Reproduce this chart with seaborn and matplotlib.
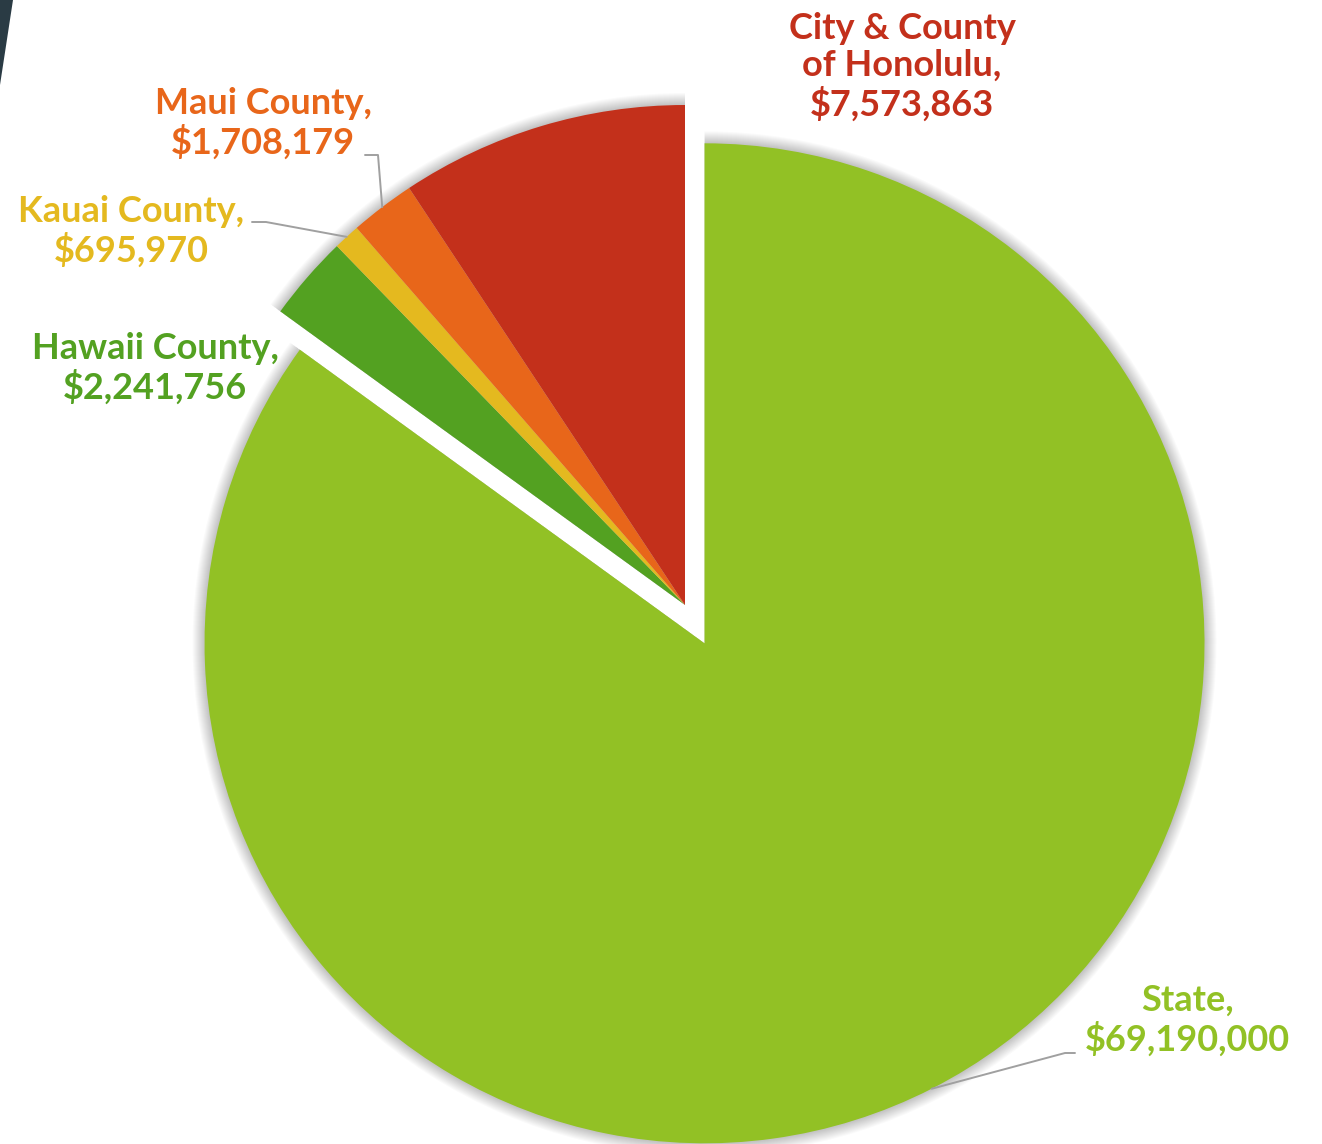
import numpy as np
import matplotlib.pyplot as plt
import seaborn as sns
from matplotlib.patches import Polygon

# Funding by source (USD)
sources = ["State", "Hawaii County", "Kauai County", "Maui County", "City & County\nof Honolulu"]
amounts = [69190000, 2241756, 695970, 1708179, 7573863]
colors = ["#92C125", "#53A121", "#E4B91F", "#E8661A", "#C3301B"]
explode_frac = [0.086, 0, 0, 0, 0]  # fraction of radius

sns.set_theme(style="white")
plt.rcParams["font.family"] = ["Lato", "DejaVu Sans"]

W, H = 1322, 1144
fig = plt.figure(figsize=(W / 100, H / 100), dpi=100)
ax = fig.add_axes([0, 0, 1, 1])

center = (685, -605)
radius = 500
# matplotlib's explode is in data units, so scale it by the radius
explode = [e * radius for e in explode_frac]

# soft drop shadow under the pie
for k in range(12, 0, -1):
    ax.pie(amounts, explode=explode, radius=radius + k, center=center,
           startangle=90, counterclock=False,
           colors=["#000000"] * len(amounts),
           wedgeprops=dict(alpha=0.018, linewidth=0))

wedges, _ = ax.pie(amounts, explode=explode, radius=radius, center=center,
                   startangle=90, counterclock=False, colors=colors,
                   wedgeprops=dict(linewidth=0))

# dark corner of the slide background
ax.add_patch(Polygon([(0, 0), (13, 0), (0, -85)], closed=True, color="#2A3B44", lw=0))


def fmt(name, val):
    return f"{name},\n${val:,.0f}"


# label centres (pixel coords) and optional leader elbows
label_pos = {
    "State": (1187, 1020),
    "Hawaii County": (155, 368),
    "Kauai County": (131, 231),
    "Maui County": (263, 123),
    "City & County\nof Honolulu": (902, 67),
}
leaders = {
    "State": [(1075, 1053), (1065, 1053)],
    "Kauai County": [(252, 222), (266, 222)],
    "Maui County": [(365, 155), (378, 155)],
}

for w, name, val, col in zip(wedges, sources, amounts, colors):
    lx, ly = label_pos[name]
    ax.text(lx, -ly, fmt(name, val), ha="center", va="center", color=col,
            fontsize=26, fontweight="bold", linespacing=1.15)
    if name in leaders:
        mid = np.deg2rad((w.theta1 + w.theta2) / 2)
        cx, cy = w.center
        ex, ey = cx + w.r * np.cos(mid), cy + w.r * np.sin(mid)
        pts = [(x, -y) for x, y in leaders[name]] + [(ex, ey)]
        xs, ys = zip(*pts)
        ax.plot(xs, ys, color="#A0A0A0", lw=1.4, zorder=3)

ax.set_xlim(0, W)
ax.set_ylim(-H, 0)
ax.set_aspect("equal")
ax.axis("off")

fig.savefig("out.png", dpi=100, facecolor="white")
